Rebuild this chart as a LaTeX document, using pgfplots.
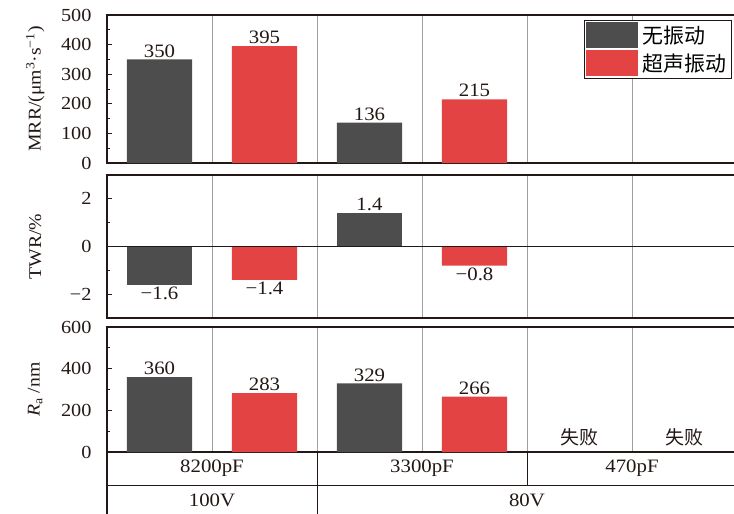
\documentclass[border=0pt]{standalone}
\usepackage{pgfplots}
\pgfplotsset{compat=1.18}
\usepackage{fontspec}
\setmainfont{Liberation Serif}[FakeStretch=1.1]
\newfontfamily\cjk{Noto Sans CJK SC}
\definecolor{dgray}{HTML}{4D4D4D}
\definecolor{bred}{HTML}{E34343}
\definecolor{gline}{HTML}{A0A0A0}
\definecolor{axc}{HTML}{231815}
\pgfplotsset{
 /pgfplots/ybar legend/.style={/pgfplots/legend image code/.code={\fill[##1] (0bp,-13bp) rectangle (52bp,13bp);}},
 panel/.style={
  scale only axis, width=630bp, xmin=-0.5, xmax=5.5,
  xtick={0.5,1.5,2.5,3.5,4.5}, xticklabels={}, xmajorgrids,
  major x grid style={gline, line width=1bp}, xtick style={draw=none},
  ytick pos=left, tick align=inside, major tick length=5bp, minor tick length=3bp,
  minor y tick num=1,
  axis line style={axc, line width=1.2bp},
  ytick style={axc, line width=1bp},
  yticklabel style={font=\fontsize{18.5}{18.5}\selectfont, text=axc, xshift=-12bp},
  /pgf/number format/assume math mode=true,
  ybar, bar shift=0pt, bar width=0.62,
  nodes near coords, nodes near coords style={font=\fontsize{19}{19}\selectfont, inner sep=2bp, text=axc},
  clip=false,
  every axis y label/.style={at={(axis description cs:-0.114,0.5)}, rotate=90, anchor=center, font=\fontsize{18}{18}\selectfont, text=axc},
 },
}
\begin{document}
\begin{tikzpicture}
% Panel 1: MRR
\begin{axis}[panel, name=p1, at={(107bp,-163bp)}, anchor=south west, height=148bp,
  ymin=0, ymax=500, ytick={0,100,200,300,400,500},
  ylabel={MRR/(μm\textsuperscript{3}·s\textsuperscript{−1})},
  legend style={at={(axis description cs:0.992,0.966)}, anchor=north east, draw=axc, line width=0.8bp,
    font=\cjk\fontsize{21}{21}\selectfont, inner sep=1.5bp, row sep=0.5bp, cells={anchor=west}, fill=white,
    nodes={inner sep=4bp}},
]
\addplot[fill=dgray, draw=none] coordinates {(0,350) (2,136)};
\addlegendentry{无振动}
\addplot[fill=bred, draw=none] coordinates {(1,395) (3,215)};
\addlegendentry{超声振动}
\end{axis}
% Panel 2: TWR
\begin{axis}[panel, name=p2, at={(107bp,-318bp)}, anchor=south west, height=143bp,
  ymin=-3, ymax=3, ytick={-2,0,2}, yticklabels={−2,0,2},
  ylabel={TWR/\%},
]
\addplot[fill=dgray, draw=none, point meta=explicit symbolic, nodes near coords style={anchor=north}] coordinates {(0,-1.6) [−1.6]};
\addplot[fill=dgray, draw=none, point meta=explicit symbolic, nodes near coords style={anchor=south}] coordinates {(2,1.4) [1.4]};
\addplot[fill=bred, draw=none, point meta=explicit symbolic, nodes near coords style={anchor=north}] coordinates {(1,-1.4) [−1.4] (3,-0.8) [−0.8]};
\draw[axc, line width=1.2bp] (axis cs:-0.5,0) -- (axis cs:5.5,0);
\end{axis}
% Panel 3: Ra
\begin{axis}[panel, name=p3, at={(107bp,-452bp)}, anchor=south west, height=125bp,
  ymin=0, ymax=600, ytick={0,200,400,600},
  ylabel={\textit{R}\textsubscript{a} /nm},
]
\addplot[fill=dgray, draw=none] coordinates {(0,360) (2,329)};
\addplot[fill=bred, draw=none] coordinates {(1,283) (3,266)};
\node[font=\cjk\fontsize{19}{19}\selectfont, text=axc] at (axis cs:4,72) {失败};
\node[font=\cjk\fontsize{19}{19}\selectfont, text=axc] at (axis cs:5,72) {失败};
\end{axis}
% table below
\draw[axc, line width=1bp] (107bp,-485bp) -- (745bp,-485bp);
\draw[axc, line width=1.2bp] (107bp,-452bp) -- (107bp,-520bp);
\draw[axc, line width=1bp] (317bp,-452bp) -- (317bp,-520bp);
\draw[axc, line width=1bp] (527bp,-452bp) -- (527bp,-485bp);
\begin{scope}[every node/.style={font=\fontsize{19}{19}\selectfont, text=axc}]
\node at (212bp,-468.5bp) {8200pF};
\node at (422bp,-468.5bp) {3300pF};
\node at (632bp,-468.5bp) {470pF};
\node at (212bp,-500bp) {100V};
\node at (527bp,-500bp) {80V};
\end{scope}
\pgfresetboundingbox
\useasboundingbox (0,0) rectangle (734bp,-514bp);
\end{tikzpicture}
\end{document}
